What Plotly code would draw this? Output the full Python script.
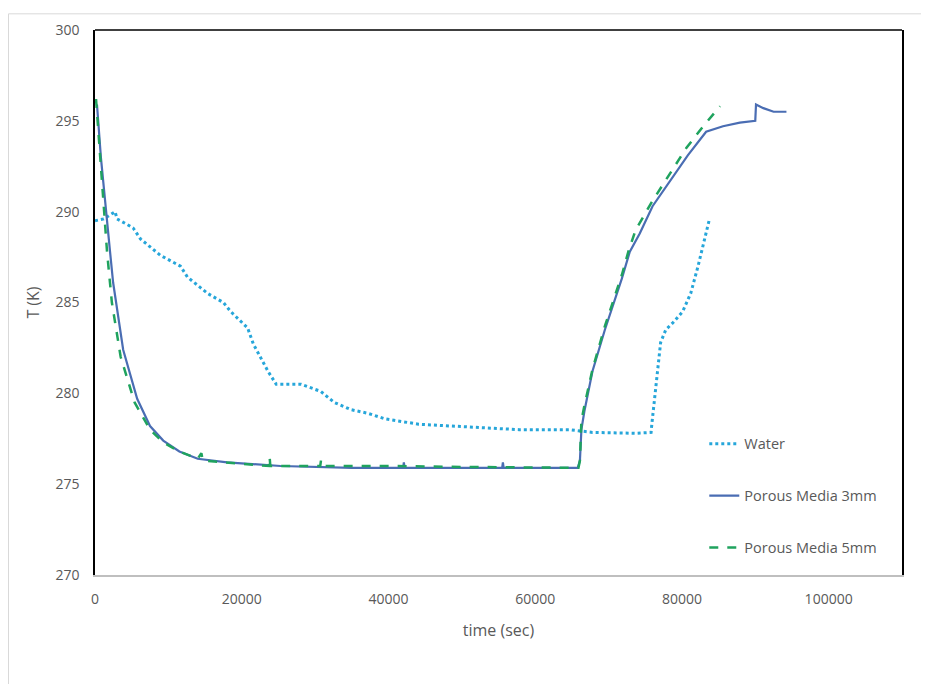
import plotly.graph_objects as go

# Water
water_t = [0, 1200, 2740, 3000, 4800, 5200, 6200, 7950, 8900, 11650, 12600, 15350, 17500, 18500,
           20800, 21600, 23600, 24700, 25300, 28100, 30800, 32600, 34900, 37200, 39500, 44100,
           48600, 53200, 57800, 64700, 67800, 73700, 75800, 75900, 76300, 76700, 77100, 77800,
           78800, 80100, 81200, 82200, 82900, 83700]
water_T = [289.5, 289.6, 290.0, 289.6, 289.2, 289.1, 288.5, 287.9, 287.6, 287.0, 286.4, 285.5, 285.0, 284.5,
           283.6, 282.7, 281.2, 280.5, 280.5, 280.5, 280.1, 279.5, 279.1, 278.9, 278.6, 278.3,
           278.2, 278.1, 278.0, 278.0, 277.85, 277.8, 277.85, 278.3, 279.7, 281.2, 282.8, 283.5,
           283.9, 284.5, 285.5, 287.0, 288.1, 289.5]

# Porous Media 3mm
pm3_t = [270, 800, 2050, 2470, 3840, 5750, 7500, 9300, 11500, 14000, 18000, 25300, 35000, 42000,
         42100, 42200, 50000, 55500, 55600, 55700, 62000, 65800, 66100, 66300, 66700, 67800, 69500,
         71800, 72900, 74250, 76000, 78400, 80800, 83300, 85600, 87900, 90000, 90100, 91100, 92500, 94250]
pm3_T = [295.9, 293.0, 287.8, 286.1, 282.4, 279.7, 278.2, 277.4, 276.8, 276.4, 276.2, 276.0, 275.9, 275.9,
         276.2, 275.9, 275.9, 275.9, 276.2, 275.9, 275.9, 275.9, 276.3, 278.0, 279.0, 281.2, 283.5,
         286.3, 287.8, 288.8, 290.3, 291.7, 293.1, 294.4, 294.7, 294.9, 295.0, 295.9, 295.7, 295.5, 295.5]

# Porous Media 5mm
pm5_t = [140, 600, 1640, 2300, 3500, 5400, 7500, 9300, 11500, 14000, 14500, 14700, 18000, 23700,
         23800, 23900, 30700, 30800, 30900, 40000, 50000, 60000, 65900, 66100, 66300, 66700, 67800,
         69500, 71800, 72700, 73700, 76000, 78400, 80600, 82900, 85200]
pm5_T = [296.2, 293.5, 287.8, 285.0, 282.0, 279.5, 278.0, 277.3, 276.8, 276.4, 276.7, 276.3, 276.2, 276.0,
         276.5, 276.0, 276.0, 276.3, 276.0, 276.0, 275.95, 275.9, 275.9, 276.3, 278.5, 279.3, 281.3,
         283.7, 286.5, 287.8, 289.0, 290.6, 292.1, 293.5, 294.7, 295.8]

x_ticks = [0, 20000, 40000, 60000, 80000, 100000]
y_ticks = [270, 275, 280, 285, 290, 295, 300]

fig = go.Figure()
fig.add_trace(go.Scatter(x=water_t, y=water_T, mode="lines", name="Water",
                         line=dict(color="#26A6DA", width=3, dash="dot"), legendgroup="a"))
fig.add_trace(go.Scatter(x=pm3_t, y=pm3_T, mode="lines", name="Porous Media 3mm",
                         line=dict(color="#4A6DB3", width=2.2), legendgroup="b"))
fig.add_trace(go.Scatter(x=pm5_t, y=pm5_T, mode="lines", name="Porous Media 5mm",
                         line=dict(color="#1FA35E", width=2.5, dash="dash"), legendgroup="c"))

fig.update_layout(
    width=929, height=684,
    margin=dict(l=87, r=35, t=17, b=117),
    paper_bgcolor="white", plot_bgcolor="white",
    font=dict(family="Open Sans, Liberation Sans, sans-serif", color="#595959", size=14),
    showlegend=True,
    legend=dict(x=0.755, y=0.270, xanchor="left", yanchor="top",
                font=dict(size=14.5, color="#595959"), tracegroupgap=30,
                bgcolor="rgba(0,0,0,0)"),
    xaxis=dict(range=[0, 110000], tickvals=x_ticks, ticktext=[str(v) for v in x_ticks],
               showgrid=False, zeroline=False, showline=True, linecolor="#BFBFBF", linewidth=1.5,
               ticks="outside", ticklen=10, tickcolor="rgba(0,0,0,0)",
               tickfont=dict(size=14, color="#595959"),
               title=dict(text="time (sec)", font=dict(size=16, color="#595959"), standoff=18)),
    yaxis=dict(range=[270, 300], tickvals=y_ticks, ticktext=[str(v) for v in y_ticks],
               showgrid=False, zeroline=False, showline=True, linecolor="black", linewidth=1.5,
               mirror=True, ticks="outside", ticklen=11, tickcolor="rgba(0,0,0,0)",
               tickfont=dict(size=14, color="#595959"),
               title=dict(text="T (K)", font=dict(size=16, color="#595959"), standoff=12)),
    shapes=[
        dict(type="line", xref="paper", yref="paper", x0=0, x1=1, y0=1, y1=1,
             line=dict(color="black", width=1.5)),
        dict(type="rect", xref="paper", yref="paper", x0=-0.1072, x1=1.06, y0=-0.25, y1=1.0297,
             line=dict(color="#D9D9D9", width=1), layer="below"),
    ],
)

fig.write_html("out.html")
